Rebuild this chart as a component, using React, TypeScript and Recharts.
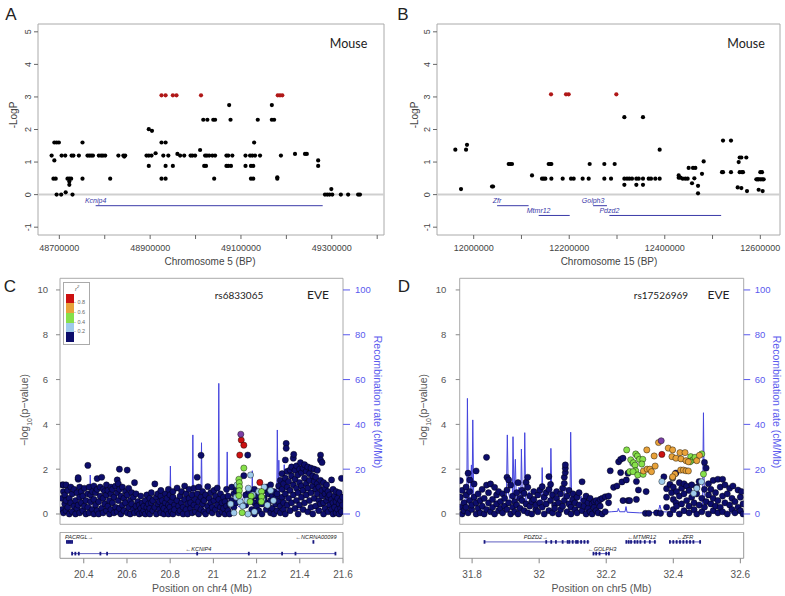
import React from 'react';
import { ComposedChart, Scatter, Line, XAxis, YAxis, ReferenceArea, ReferenceLine } from 'recharts';

const SANS = '"Liberation Sans", Arial, sans-serif';
const LATO = 'Lato, "Open Sans", sans-serif';

// ---------- panel A (mouse, chr5) ----------
const aXTicks = [48700000, 48800000, 48900000, 49000000, 49100000, 49200000, 49300000, 49400000];
const aXLabels = [48700000, 48900000, 49100000, 49300000];
const aBlack = [
  [48683000, 1.2], [48689000, 1.6], [48694000, 1.6], [48699000, 1.6], [48689000, 1.05], [48687000, 0.49],
  [48692000, 0.49], [48694000, 0.0], [48704000, 0.0], [48705000, 1.2], [48713000, 1.2], [48714000, 0.07],
  [48718000, 0.49], [48722000, 0.49], [48726000, 0.49], [48722000, 0.4], [48722000, 0.3], [48727000, 1.2],
  [48731000, 1.2], [48729000, 0.0], [48743000, 1.2], [48751000, 1.6], [48751000, 0.49], [48762000, 1.2],
  [48766000, 1.2], [48770000, 1.2], [48774000, 1.2], [48787000, 1.2], [48792000, 1.2], [48796000, 1.2],
  [48801000, 1.2], [48812000, 0.49], [48830000, 1.2], [48841000, 1.2], [48843000, 1.17], [48845000, 1.2],
  [48892000, 1.2], [48897000, 1.2], [48903000, 1.2], [48897000, 0.88], [48897000, 2.01], [48904000, 1.96],
  [48912000, 1.27], [48925000, 1.6], [48934000, 1.6], [48925000, 0.49], [48934000, 0.49], [48929000, 1.2],
  [48940000, 1.2], [48934000, 0.88], [48950000, 0.88], [48960000, 1.25], [48966000, 1.2], [48975000, 1.2],
  [48989000, 1.2], [48993000, 1.2], [48999000, 1.2], [49010000, 1.37], [49017000, 2.3], [49026000, 2.3],
  [49019000, 0.88], [49023000, 0.88], [49021000, 1.2], [49025000, 1.2], [49030000, 1.2], [49039000, 2.3],
  [49043000, 2.3], [49037000, 1.2], [49043000, 1.2], [49041000, 0.49], [49074000, 2.75], [49077000, 2.3],
  [49068000, 1.2], [49072000, 1.2], [49081000, 1.2], [49068000, 0.88], [49072000, 0.88], [49078000, 0.88],
  [49110000, 1.2], [49110000, 0.88], [49120000, 1.2], [49125000, 1.2], [49122000, 0.49], [49127000, 0.49],
  [49122000, 0.88], [49127000, 0.88], [49129000, 1.6], [49131000, 1.2], [49137000, 2.3], [49142000, 1.2],
  [49168000, 2.75], [49168000, 2.3], [49173000, 2.3], [49180000, 0.49], [49180000, 0.53], [49188000, 1.2],
  [49219000, 1.25], [49241000, 1.25], [49245000, 1.25], [49270000, 1.05], [49270000, 0.88], [49285000, 0.0],
  [49290000, 0.0], [49295000, 0.0], [49299000, 0.17], [49301000, 0.0], [49320000, 0.0], [49336000, 0.0],
  [49358000, 0.0], [49362000, 0.0],
];
const aRed = [
  [48925000, 3.05], [48934000, 3.05], [48950000, 3.05], [48958000, 3.05], [49012000, 3.05],
  [49181000, 3.05], [49186000, 3.05], [49191000, 3.05],
];
const aGenes = [{ name: 'Kcnip4', start: 48780000, end: 49280000, row: 0 }];

// ---------- panel B (mouse, chr15) ----------
const bXTicks = [12000000, 12100000, 12200000, 12300000, 12400000, 12500000, 12600000];
const bXLabels = [12000000, 12200000, 12400000, 12600000];
const bBlack = [
  [11961600, 1.38], [11973500, 0.17], [11984000, 1.38], [11986000, 1.53], [12038400, 0.25], [12040500, 0.25],
  [12073300, 0.94], [12076700, 0.94], [12080200, 0.94], [12122100, 0.59], [12143000, 0.49], [12146500, 0.49],
  [12150000, 0.49], [12157000, 0.94], [12160500, 0.94], [12162600, 0.94], [12162600, 0.49], [12186300, 0.49],
  [12203700, 0.49], [12209300, 0.49], [12228100, 0.49], [12240700, 0.49], [12242800, 0.94], [12273500, 0.94],
  [12273500, 0.49], [12287500, 0.49], [12295100, 0.94], [12315400, 2.38], [12315400, 0.3], [12315400, 0.49],
  [12320900, 0.49], [12325800, 0.49], [12331400, 0.49], [12340500, 0.49], [12340500, 0.3], [12345400, 0.49],
  [12354400, 2.38], [12354400, 0.49], [12354400, 0.3], [12366300, 0.49], [12371200, 0.49], [12380200, 0.49],
  [12389300, 1.38], [12389300, 0.49], [12429100, 0.59], [12429100, 0.52], [12432600, 0.52], [12437500, 0.49],
  [12443000, 0.49], [12447900, 0.49], [12450000, 0.82], [12459100, 0.82], [12457000, 0.35], [12464000, 0.82],
  [12461900, 0.5], [12469600, 0.27], [12469600, 0.04], [12477900, 0.64], [12481400, 1.02], [12519800, 0.69],
  [12521900, 0.69], [12521900, 1.66], [12538600, 1.66], [12538600, 0.69], [12552600, 0.22], [12554700, 1.0],
  [12556800, 1.14], [12560300, 1.14], [12556800, 0.69], [12560300, 0.2], [12561700, 0.69], [12563700, 0.69],
  [12570700, 1.14], [12572100, 0.11], [12591700, 0.47], [12594400, 0.47], [12596500, 0.47], [12600000, 0.47],
  [12596500, 0.15], [12600000, 0.69], [12603500, 0.69], [12603500, 0.47], [12607000, 0.47], [12604900, 0.11],
];
const bRed = [[12161900, 3.08], [12193300, 3.08], [12198800, 3.08], [12298600, 3.08]];
const bGenes = [
  { name: 'Zfr', start: 12049000, end: 12115000, row: 0 },
  { name: 'Mtmr12', start: 12136000, end: 12201000, row: 1 },
  { name: 'Golph3', start: 12250000, end: 12279000, row: 0 },
  { name: 'Pdzd2', start: 12284000, end: 12518000, row: 1 },
];
const logpTicks = [-1, 0, 1, 2, 3, 4, 5];

// ---------- panel C (human, chr4) ----------
const cXTicks = [20.4, 20.6, 20.8, 21, 21.2, 21.4, 21.6];
const pTicks = [0, 2, 4, 6, 8, 10];
const rateTicks = [0, 20, 40, 60, 80, 100];
const cNavyCols = [
  [20.300, 0.2, 0.7, 1.3], [20.306, 0.05, 1.0, 1.3], [20.312, 0.45, 0.85], [20.318, 0.15, 1.3, 0.6],
  [20.326, 0.3, 1.05], [20.333, 0.0, 0.7], [20.340, 0.5, 1.2], [20.347, 0.1, 0.9], [20.355, 0.35, 1.1],
  [20.362, 0.0, 0.6], [20.369, 0.25, 0.95], [20.374, 1.55, 1.62, 0.4], [20.381, 0.05, 0.75, 1.2],
  [20.389, 0.5, 1.0], [20.396, 0.15, 0.8], [20.403, 0.35, 1.15], [20.410, 0.0, 0.6], [20.419, 2.17, 0.9, 0.3],
  [20.425, 0.05, 1.2], [20.432, 0.55, 0.85], [20.440, 0.2, 1.0], [20.447, 0.0, 0.65, 1.25], [20.455, 0.4, 0.95],
  [20.462, 1.58, 0.15, 1.1], [20.469, 0.55, 0.0], [20.476, 0.8, 1.2], [20.483, 0.25, 1.64],
  [20.490, 0.05, 0.7, 1.1], [20.497, 0.45, 1.0], [20.505, 0.15, 0.85, 1.3], [20.512, 0.35, 1.05],
  [20.519, 0.0, 0.6], [20.526, 0.2, 0.9, 1.2], [20.533, 0.5, 1.1], [20.540, 0.05, 0.75], [20.547, 0.3, 1.25],
  [20.555, 1.52, 0.1, 0.95], [20.560, 0.6, 1.35], [20.565, 2.0, 0.25, 1.1], [20.572, 0.0, 0.8],
  [20.579, 0.4, 1.2], [20.586, 0.15, 0.7], [20.593, 0.5, 1.0], [20.601, 1.96, 0.05, 0.85], [20.608, 0.3, 1.15],
  [20.615, 0.0, 0.6], [20.622, 0.45, 0.95], [20.629, 0.2, 0.75], [20.635, 1.4, 0.05], [20.642, 0.35, 0.9],
  [20.650, 0.1, 0.55], [20.657, 0.0, 0.4], [20.664, 0.25, 0.8], [20.671, 0.05, 0.5], [20.678, 0.15, 0.35],
  [20.685, 0.0, 0.6], [20.692, 0.3, 0.85], [20.699, 0.1, 0.45], [20.706, 0.0, 0.25, 0.7], [20.713, 0.5, 0.95],
  [20.720, 0.15, 0.6], [20.729, 1.34, 0.3], [20.736, 0.0, 0.75], [20.743, 0.45, 0.9], [20.750, 0.2, 0.55],
  [20.757, 0.05, 0.8, 1.05], [20.764, 0.35, 0.6], [20.771, 0.0, 0.25], [20.778, 0.5, 0.9], [20.785, 0.15, 0.7],
  [20.792, 0.0, 0.4, 1.1], [20.799, 0.3, 0.85], [20.806, 0.1, 0.55], [20.813, 0.0, 0.75, 1.0], [20.820, 0.4, 0.2],
  [20.832, 1.16, 0.6], [20.839, 0.05, 0.35], [20.846, 0.8, 0.15], [20.853, 0.5, 1.0], [20.860, 0.0, 0.3],
  [20.867, 1.25, 0.65], [20.874, 0.2, 0.9], [20.881, 0.0, 0.45], [20.888, 0.7, 1.1], [20.895, 0.25, 0.5],
  [20.902, 0.05, 0.85], [20.910, 0.4, 1.15], [20.917, 0.1, 0.65], [20.925, 1.64, 0.3, 0.9],
  [20.932, 0.0, 0.55, 1.2], [20.943, 2.62, 0.2, 0.75], [20.950, 0.45, 1.0], [20.957, 0.1, 0.6],
  [20.964, 0.0, 0.85], [20.974, 1.22, 0.35], [20.981, 0.15, 0.7], [20.988, 0.5, 0.95], [20.995, 0.05, 0.3],
  [21.003, 0.6, 1.05], [21.010, 0.2, 0.8], [21.018, 1.16, 0.4], [21.025, 0.0, 0.65], [21.033, 0.3, 0.9],
  [21.040, 0.1, 0.5], [21.047, 0.75, 0.25], [21.054, 0.0, 0.55], [21.061, 1.1, 0.35], [21.068, 0.15, 0.8],
  [21.075, 0.45, 0.0], [21.085, 1.2, 0.6], [21.095, 0.3, 0.9], [21.105, 1.05, 0.5], [21.141, 1.71],
  [21.159, 2.63], [21.150, 0.4, 0.85], [21.165, 0.6, 1.0], [21.178, 0.2, 0.75], [21.190, 0.0, 0.5, 1.1],
  [21.200, 0.35, 0.8], [21.210, 0.15, 0.6], [21.225, 0.45, 0.0], [21.235, 0.7, 1.05], [21.245, 0.2, 0.5, 1.2],
  [21.255, 0.35, 0.9], [21.265, 0.05, 0.6, 1.3], [21.273, 0.25, 0.8], [21.280, 0.0, 1.0], [21.288, 0.45, 0.7],
  [21.295, 0.15, 0.9], [21.302, 0.55, 1.25], [21.310, 0.05, 0.35, 1.5], [21.318, 0.75, 1.1, 1.8],
  [21.325, 0.2, 0.5, 1.35], [21.333, 2.41, 0.9, 1.6, 0.0], [21.337, 3.15, 2.93], [21.342, 0.4, 1.2, 1.9],
  [21.348, 0.7, 1.45], [21.355, 1.96, 0.15, 1.05], [21.362, 0.5, 1.7, 2.1], [21.370, 2.49, 0.85, 1.3],
  [21.372, 2.66], [21.378, 0.25, 1.55, 1.95], [21.385, 0.6, 1.15, 2.15], [21.392, 0.0, 0.95, 1.75],
  [21.399, 0.4, 1.4, 2.0], [21.403, 2.29], [21.408, 0.75, 1.25, 1.85], [21.415, 0.2, 1.05, 2.05],
  [21.422, 0.5, 1.6, 2.2], [21.430, 0.85, 1.35, 1.9], [21.437, 0.1, 1.15, 2.1], [21.445, 0.6, 1.5, 1.8],
  [21.452, 0.3, 0.95, 2.05], [21.460, 0.0, 1.25, 1.7], [21.467, 0.7, 1.45, 2.0], [21.474, 0.35, 1.1, 1.65],
  [21.481, 0.9, 1.35, 1.95], [21.488, 0.15, 0.6, 1.2], [21.496, 2.63, 2.41, 0.45, 1.5], [21.503, 2.3, 0.8, 1.05],
  [21.510, 0.0, 0.5, 1.4], [21.517, 0.25, 0.9, 1.15], [21.524, 0.6, 1.3], [21.531, 0.1, 0.75, 1.0],
  [21.538, 0.4, 0.85], [21.547, 1.52, 0.2, 0.65], [21.554, 0.0, 0.5, 1.1], [21.561, 0.3, 0.8],
  [21.568, 0.55, 1.0, 0.05], [21.575, 0.2, 0.7], [21.582, 0.0, 0.45, 0.95], [21.589, 0.25, 0.6],
  [21.593, 1.59, 0.1], [21.598, 0.4, 0.75],
];
const cLightBlue = [
  [21.08, 0.45], [21.095, 0.05], [21.106, 0.75], [21.11, 1.3], [21.124, 0.55], [21.136, 0.35],
  [21.155, 0.6], [21.162, 1.15], [21.172, 1.74], [21.182, 0.85], [21.19, 0.1], [21.21, 1.0],
  [21.226, 0.65], [21.235, 1.2], [21.25, 0.4], [21.265, 1.05], [21.278, 0.6], [21.16, 0.0],
];
const cGreen = [
  [21.118, 1.55], [21.12, 1.4], [21.121, 1.22], [21.12, 1.04], [21.118, 0.82], [21.133, 0.06],
  [21.175, 0.8], [21.17, 0.55], [21.223, 1.0], [21.223, 0.77], [21.222, 0.55], [21.141, 2.05],
];
const cRed = [[21.129, 3.3], [21.141, 3.07], [21.122, 2.63], [21.215, 1.41]];
const cIndex = [[21.127, 3.56]];
const cRecomb = [
  [20.29, 2], [20.32, 3], [20.34, 1.5], [20.36, 4], [20.38, 2], [20.40, 3], [20.427, 2.5], [20.43, 17.4],
  [20.434, 3], [20.45, 2], [20.47, 5], [20.49, 2], [20.51, 3], [20.53, 1.5], [20.56, 4], [20.58, 2], [20.60, 6],
  [20.62, 2], [20.65, 1], [20.68, 3], [20.71, 1.5], [20.74, 2], [20.77, 1], [20.798, 2], [20.801, 21.4],
  [20.804, 2], [20.83, 3], [20.86, 1.5], [20.88, 4], [20.902, 3], [20.905, 35.3], [20.908, 6], [20.925, 4],
  [20.942, 5], [20.945, 31.8], [20.948, 4], [20.97, 2], [20.99, 3], [21.01, 2], [21.022, 3], [21.025, 58.3],
  [21.028, 3], [21.045, 2], [21.061, 3], [21.064, 27.7], [21.067, 4], [21.09, 6], [21.12, 3], [21.15, 10],
  [21.165, 6], [21.178, 8], [21.18, 19.3], [21.183, 6], [21.21, 3], [21.24, 12], [21.245, 4], [21.27, 3],
  [21.293, 4], [21.296, 37.5], [21.3, 5], [21.303, 24], [21.306, 4], [21.326, 5], [21.328, 22], [21.331, 3],
  [21.36, 2], [21.40, 2], [21.45, 1], [21.50, 2], [21.55, 1], [21.60, 1],
];
const cGenes = [
  { name: 'PACRGL\u2192', start: 20.32, end: 20.348, row: 0, labelAt: 20.378 },
  { name: '\u2190NCRNA00099', start: 21.46, end: 21.466, row: 0, labelAt: 21.475 },
  { name: '\u2190KCNIP4', start: 20.346, end: 21.565, row: 1, labelAt: 20.931 },
];
const cExons = [
  [20.322, 0], [20.328, 0], [20.334, 0], [20.34, 0], [20.346, 0], [21.463, 0],
  [20.346, 1], [20.361, 1], [20.377, 1], [20.477, 1], [20.508, 1], [20.925, 1], [21.164, 1], [21.318, 1],
  [21.38, 1], [21.565, 1],
];

// ---------- panel D (human, chr5) ----------
const dXTicks = [31.8, 32, 32.2, 32.4, 32.6];
const dNavyCols = [
  [31.765, 1.49, 0.3, 0.75], [31.770, 0.0, 1.05], [31.776, 0.5, 0.15], [31.782, 0.85, 0.3, 1.2],
  [31.788, 1.82, 0.05], [31.793, 1.52, 0.6, 1.0], [31.799, 0.2, 0.4], [31.806, 1.34, 0.75],
  [31.812, 1.92, 0.0, 0.5], [31.818, 0.25, 0.9], [31.824, 0.6, 0.05], [31.830, 0.35, 1.1], [31.836, 0.0, 0.7],
  [31.843, 2.53, 1.29, 0.2], [31.849, 0.5, 0.95], [31.855, 0.1, 1.34], [31.861, 0.65, 0.3], [31.867, 1.19, 0.0],
  [31.873, 0.45, 0.85], [31.879, 0.15, 1.0], [31.885, 0.55, 0.25], [31.891, 0.9, 0.05], [31.897, 0.35, 0.7],
  [31.904, 1.64, 1.07, 0.2], [31.909, 1.52, 0.5], [31.915, 0.0, 1.29], [31.921, 0.8, 0.3], [31.927, 0.1, 0.55],
  [31.933, 0.95, 0.4], [31.937, 1.4, 0.0], [31.943, 0.25, 0.7], [31.949, 0.6, 1.05], [31.955, 0.15, 0.92],
  [31.961, 1.41, 0.45], [31.966, 1.64, 1.19, 0.05], [31.972, 0.35, 0.8], [31.978, 0.0, 0.55],
  [31.984, 0.65, 1.0], [31.990, 0.2, 0.4], [31.996, 0.85, 0.1], [32.002, 1.07, 0.5], [32.009, 1.22, 0.3],
  [32.015, 0.0, 0.75], [32.021, 0.45, 0.95], [32.029, 1.1, 1.67, 0.15], [32.034, 1.32, 0.6], [32.040, 0.05, 0.85],
  [32.046, 0.4, 0.25], [32.052, 0.7, 1.0], [32.058, 0.0, 0.5], [32.064, 0.9, 0.2], [32.070, 0.35, 1.15],
  [32.075, 1.64, 1.37, 0.6], [32.078, 1.85, 2.04, 2.19], [32.083, 0.1, 0.8], [32.089, 0.45, 1.05],
  [32.095, 0.0, 0.3], [32.101, 0.65, 0.9], [32.107, 0.2, 0.5], [32.113, 0.75, 0.05], [32.119, 0.4, 0.95],
  [32.128, 1.44, 0.15], [32.134, 0.6, 0.35], [32.140, 0.0, 0.8], [32.146, 0.25, 0.5], [32.152, 0.7, 0.1],
  [32.158, 0.45, 0.0], [32.164, 0.3, 0.55], [32.170, 0.6, 0.15], [32.176, 0.5, 0.05], [32.182, 0.65, 0.35],
  [32.188, 0.7, 0.0], [32.197, 0.77, 0.1], [32.207, 0.8, 0.5], [32.212, 1.93], [32.222, 1.19], [32.232, 1.25],
  [32.237, 2.33], [32.243, 2.44, 1.85], [32.247, 1.43], [32.250, 2.49, 0.6], [32.260, 1.52], [32.265, 1.82, 0.6],
  [32.270, 0.6], [32.290, 0.65, 1.45], [32.296, 1.07], [32.319, 1.0], [32.317, 0.03], [32.327, 0.03],
  [32.350, 0.05], [32.362, 0.03], [32.372, 1.66], [32.380, 1.13, 0.3, 0.75], [32.390, 1.32, 0.0], [32.395, 0.95],
  [32.400, 0.2, 1.2, 0.65], [32.408, 1.83, 0.5], [32.410, 1.0, 0.35], [32.418, 0.0, 0.8, 1.4],
  [32.425, 0.45, 1.15], [32.432, 0.15, 0.9, 1.35], [32.440, 0.6, 1.25], [32.447, 0.05, 0.35, 1.05],
  [32.455, 0.75, 1.3], [32.462, 0.2, 0.5], [32.470, 0.9, 1.2, 0.0], [32.477, 0.4, 1.45], [32.485, 0.1, 0.7],
  [32.493, 2.3, 1.1, 0.3], [32.498, 2.05, 0.55], [32.505, 0.0, 0.85, 1.35], [32.512, 0.45, 1.1],
  [32.519, 0.15, 0.7, 1.5], [32.526, 0.35, 0.95], [32.533, 1.55, 0.05, 0.6], [32.540, 0.3, 1.2],
  [32.547, 1.55, 0.8, 0.1], [32.554, 0.5, 1.3], [32.561, 0.0, 0.9], [32.568, 0.4, 1.15], [32.575, 0.2, 0.7],
  [32.578, 1.25], [32.584, 0.55, 0.05], [32.593, 1.07, 0.3], [32.600, 0.75, 0.15], [32.603, 1.0],
  [32.608, 0.45, 0.0],
];
const dLightBlue = [[32.279, 2.26], [32.366, 1.45], [32.484, 1.44], [32.461, 0.92], [32.47, 1.15]];
const dGray = [[32.398, 1.6]];
const dGreen = [
  [32.261, 2.86], [32.288, 2.68], [32.293, 2.59], [32.273, 2.42], [32.281, 2.29], [32.299, 2.44],
  [32.309, 2.44], [32.306, 2.23], [32.286, 2.18], [32.288, 1.93], [32.27, 1.89], [32.28, 1.89],
  [32.294, 1.74], [32.31, 1.77], [32.452, 2.56], [32.458, 2.41], [32.465, 2.53], [32.45, 2.33],
  [32.485, 2.68], [32.49, 1.78],
];
const dOrange = [
  [32.321, 2.86], [32.343, 2.59], [32.311, 1.92], [32.322, 2.0], [32.33, 2.0], [32.335, 1.89], [32.346, 2.14],
  [32.356, 3.19], [32.385, 2.94], [32.398, 2.86], [32.396, 2.56], [32.408, 2.49], [32.42, 2.74], [32.423, 2.46],
  [32.435, 2.74], [32.438, 2.38], [32.445, 2.33], [32.47, 2.38], [32.478, 2.62], [32.422, 1.96], [32.43, 1.96],
  [32.438, 1.93], [32.445, 1.92], [32.405, 1.78], [32.398, 1.66],
];
const dRed = [[32.366, 2.66]];
const dIndex = [[32.364, 3.27]];
const dRecomb = [
  [31.763, 3], [31.77, 6], [31.775, 2], [31.782, 10], [31.784, 4], [31.786, 51.6], [31.789, 5], [31.795, 12],
  [31.798, 21.9], [31.8, 6], [31.802, 42], [31.805, 4], [31.815, 3], [31.825, 8], [31.83, 2], [31.85, 5],
  [31.86, 3], [31.875, 6], [31.89, 2], [31.902, 4], [31.905, 35.3], [31.908, 10], [31.915, 5], [31.92, 6],
  [31.922, 34.5], [31.925, 8], [31.929, 24.4], [31.932, 5], [31.94, 12], [31.945, 6], [31.947, 29], [31.95, 7],
  [31.955, 8], [31.957, 36.3], [31.96, 5], [31.97, 10], [31.98, 4], [31.99, 6], [32.0, 3], [32.007, 5],
  [32.009, 20.7], [32.012, 4], [32.02, 8], [32.033, 6], [32.035, 29.3], [32.038, 5], [32.05, 10], [32.06, 4],
  [32.07, 6], [32.08, 12], [32.092, 5], [32.094, 36.5], [32.097, 4], [32.11, 6], [32.12, 3], [32.125, 8],
  [32.13, 2], [32.15, 1.5], [32.18, 1], [32.2, 0.8], [32.215, 1], [32.234, 1.2], [32.236, 2.5], [32.24, 1],
  [32.256, 1], [32.259, 3.3], [32.262, 0.8], [32.3, 0.5], [32.33, 0.6], [32.355, 0.8], [32.36, 4], [32.365, 1],
  [32.4, 0.8], [32.44, 0.5], [32.47, 0.8], [32.487, 0.5], [32.49, 45.2], [32.493, 1], [32.52, 0.5],
  [32.56, 0.4], [32.61, 0.3],
];
const dGenes = [
  { name: 'PDZD2\u2192', start: 31.837, end: 32.15, row: 0, labelAt: 31.99 },
  { name: '\u2190GOLPH3', start: 32.162, end: 32.209, row: 1, labelAt: 32.188 },
  { name: '\u2190MTMR12', start: 32.259, end: 32.349, row: 0, labelAt: 32.306 },
  { name: '\u2190ZFR', start: 32.388, end: 32.483, row: 0, labelAt: 32.435 },
];
const dExons = [
  [31.837, 0], [32.021, 0], [32.036, 0], [32.05, 0], [32.07, 0], [32.085, 0], [32.09, 0], [32.1, 0], [32.11, 0],
  [32.115, 0], [32.125, 0], [32.135, 0], [32.145, 0], [32.162, 1], [32.17, 1], [32.18, 1], [32.2, 1], [32.208, 1],
  [32.26, 0], [32.267, 0], [32.274, 0], [32.285, 0], [32.293, 0], [32.302, 0], [32.315, 0], [32.33, 0], [32.345, 0],
  [32.39, 0], [32.4, 0], [32.41, 0], [32.42, 0], [32.43, 0], [32.44, 0], [32.45, 0], [32.46, 0], [32.48, 0],
];

const r2Legend = [
  { color: '#cc1111', label: '0.8' },
  { color: '#e8a23a', label: '0.6' },
  { color: '#86e04a', label: '0.4' },
  { color: '#9fcbec', label: '0.2' },
  { color: '#0d0d6b', label: '' },
];

const pts = (arr) => arr.map(([x, y]) => ({ x, y }));
const cols = (rows) => rows.flatMap(([x, ...ys]) => ys.map((y) => ({ x, y })));
const rates = (arr) => arr.map(([x, rate]) => ({ x, rate }));

// ---------- shapes ----------
const smallDot = (fill) => (p) => <circle cx={p.cx} cy={p.cy} r={2.1} fill={fill} />;
const lzDot = (fill) => (p) => (
  <circle cx={p.cx} cy={p.cy} r={3.1} fill={fill} stroke="#000" strokeOpacity={0.7} strokeWidth={0.6} />
);
const mouseGeneText = (p) => (
  <text x={p.cx} y={p.cy - 2.5} textAnchor="middle" fontSize={7} fontStyle="italic" fill="#3a3aa8" fontFamily={SANS}>
    {(p.payload || p).name}
  </text>
);
const humanGeneText = (p) => (
  <text x={p.cx} y={p.cy} dy="0.35em" textAnchor="middle" fontSize={5.6} fontStyle="italic" fill="#222" fontFamily={SANS}>
    {(p.payload || p).name}
  </text>
);
const exonShape = (p) => <rect x={p.cx - 0.9} y={p.cy - 1.8} width={1.8} height={3.6} fill="#1a1a80" />;

const rotTick = (p) => (
  <text x={p.x} y={p.y} dy="0.35em" textAnchor="middle" fontSize={9} fill="#444" fontFamily={SANS}
    transform={`rotate(-90 ${p.x} ${p.y})`}>
    {p.payload.value}
  </text>
);
const bpTick = (labels) => (p) =>
  labels.includes(p.payload.value) ? (
    <text x={p.x} y={p.y} dy="0.71em" textAnchor="middle" fontSize={9} fill="#444" fontFamily={SANS}>
      {p.payload.value}
    </text>
  ) : (
    <g />
  );

function Txt({ x, y, size, color = '#222', rot = 0, font = SANS, italic = false, children }) {
  return (
    <div
      style={{
        position: 'absolute', left: x, top: y, transform: `translate(-50%, -50%) rotate(${rot}deg)`,
        fontSize: size, color, fontFamily: font, whiteSpace: 'nowrap', lineHeight: 1,
        fontStyle: italic ? 'italic' : 'normal',
      }}
    >
      {children}
    </div>
  );
}

function MousePanel({ left, width, yAxisW, rightM, xDomain, xTicks, xLabels, black, red, genes, tickMargin }) {
  const labels = genes.map((g) => ({ x: g.start, y: -0.34 - 0.3 * g.row, name: g.name }));
  return (
    <div style={{ position: 'absolute', left, top: 0 }}>
      <ComposedChart width={width} height={275} margin={{ top: 24, right: rightM, bottom: 0, left: 0 }}>
        <XAxis type="number" dataKey="x" domain={xDomain} allowDataOverflow ticks={xTicks} interval={0}
          tick={bpTick(xLabels)} tickSize={4} tickMargin={5.5} axisLine={false} tickLine={{ stroke: '#666' }} height={40} />
        <YAxis type="number" dataKey="y" domain={[-1.24, 5.24]} allowDataOverflow ticks={logpTicks} interval={0}
          tick={rotTick} tickSize={4} tickMargin={tickMargin} width={yAxisW} axisLine={false} tickLine={{ stroke: '#666' }} />
        <ReferenceArea x1={xDomain[0]} x2={xDomain[1]} y1={-1.24} y2={5.24} fill="none" stroke="#aaa" fillOpacity={0} />
        <ReferenceLine y={0} stroke="#cfcfcf" strokeWidth={2} />
        {genes.map((g) => (
          <ReferenceLine key={g.name} segment={[{ x: g.start, y: -0.34 - 0.3 * g.row }, { x: g.end, y: -0.34 - 0.3 * g.row }]}
            stroke="#3a3aa8" strokeWidth={1} />
        ))}
        <Scatter data={labels} shape={mouseGeneText} isAnimationActive={false} />
        <Scatter data={pts(black)} shape={smallDot('#000')} isAnimationActive={false} />
        <Scatter data={pts(red)} shape={smallDot('#b01818')} isAnimationActive={false} />
      </ComposedChart>
    </div>
  );
}

function HumanPanel({ left, width, leftW, rightW, xDomain, xTicks, navy, light, green, orange, red, gray, index, recomb, genes, exons, lTickM, rTickS, rTickM }) {
  const gLabels = genes.map((g) => ({ x: g.labelAt, y: g.row === 0 ? 0.8 : 0.35, name: g.name }));
  return (
    <>
      <div style={{ position: 'absolute', left, top: 240 }}>
        <ComposedChart width={width} height={290} margin={{ top: 38.3, right: 0, bottom: 5.7, left: 0 }}>
          <XAxis type="number" dataKey="x" domain={xDomain} allowDataOverflow hide />
          <YAxis yAxisId="p" type="number" dataKey="y" domain={[-0.46, 10.52]} allowDataOverflow ticks={pTicks} interval={0}
            width={leftW} tickSize={4} tickMargin={lTickM} axisLine={false} tickLine={{ stroke: '#888' }}
            tick={{ fontSize: 9.5, fill: '#555', fontFamily: SANS }} />
          <YAxis yAxisId="r" orientation="right" type="number" dataKey="rate" domain={[-4.6, 105.2]} allowDataOverflow
            ticks={rateTicks} interval={0} width={rightW} tickSize={rTickS} tickMargin={rTickM} axisLine={false}
            tickLine={{ stroke: '#5a5aee' }} tick={{ fontSize: 9.5, fill: '#5a5aee', fontFamily: SANS }} />
          <ReferenceArea yAxisId="p" x1={xDomain[0]} x2={xDomain[1]} y1={-0.46} y2={10.52} fill="none" fillOpacity={0} stroke="#aaa" />
          <Line yAxisId="r" data={rates(recomb)} dataKey="rate" type="linear" dot={false} stroke="#4545dd"
            strokeWidth={1} isAnimationActive={false} />
          <Scatter yAxisId="p" data={cols(navy)} shape={lzDot('#0d0d6b')} isAnimationActive={false} />
          <Scatter yAxisId="p" data={pts(light)} shape={lzDot('#9fcbec')} isAnimationActive={false} />
          <Scatter yAxisId="p" data={pts(gray)} shape={lzDot('#6b6b6b')} isAnimationActive={false} />
          <Scatter yAxisId="p" data={pts(green)} shape={lzDot('#86e04a')} isAnimationActive={false} />
          <Scatter yAxisId="p" data={pts(orange)} shape={lzDot('#e8a23a')} isAnimationActive={false} />
          <Scatter yAxisId="p" data={pts(red)} shape={lzDot('#cc1111')} isAnimationActive={false} />
          <Scatter yAxisId="p" data={pts(index)} shape={lzDot('#7b3fa6')} isAnimationActive={false} />
        </ComposedChart>
      </div>
      <div style={{ position: 'absolute', left, top: 532 }}>
        <ComposedChart width={width} height={64} margin={{ top: 0.3, right: rightW, bottom: 0, left: leftW }}>
          <XAxis type="number" dataKey="x" domain={xDomain} allowDataOverflow ticks={xTicks} interval={0}
            tickFormatter={(v) => String(+Number(v).toFixed(1))} height={37.7} tickSize={5} tickMargin={8}
            axisLine={false} tickLine={{ stroke: '#888' }} tick={{ fontSize: 10, fill: '#555', fontFamily: SANS }} />
          <YAxis type="number" dataKey="y" domain={[0, 1]} allowDataOverflow hide />
          <ReferenceArea x1={xDomain[0]} x2={xDomain[1]} y1={0} y2={1} fill="none" fillOpacity={0} stroke="#999" />
          {genes.map((g) => (
            <ReferenceLine key={g.name} segment={[{ x: g.start, y: g.row === 0 ? 0.63 : 0.18 }, { x: g.end, y: g.row === 0 ? 0.63 : 0.18 }]}
              stroke="#3535b0" strokeWidth={0.8} />
          ))}
          <Scatter data={exons.map(([x, row]) => ({ x, y: row === 0 ? 0.63 : 0.18 }))} shape={exonShape} isAnimationActive={false} />
          <Scatter data={gLabels} shape={humanGeneText} isAnimationActive={false} />
        </ComposedChart>
      </div>
    </>
  );
}

function R2Legend() {
  return (
    <div style={{ position: 'absolute', left: 63, top: 281.5, width: 27, height: 63, border: '1px solid #aaa', background: '#fff', boxSizing: 'border-box' }}>
      <div style={{ position: 'absolute', left: 11, top: 1, fontSize: 6, fontStyle: 'italic', color: '#555', fontFamily: SANS }}>
        r<sup style={{ fontSize: 4 }}>2</sup>
      </div>
      {r2Legend.map((e, i) => (
        <div key={i} style={{ position: 'absolute', left: 1.5, top: 11 + i * 9.7, width: 8, height: 9.7, background: e.color }} />
      ))}
      {r2Legend.map((e, i) =>
        e.label ? (
          <div key={'l' + i} style={{ position: 'absolute', left: 10, top: 11 + (i + 1) * 9.7 - 3, fontSize: 5.5, color: '#666', fontFamily: SANS, lineHeight: 1 }}>
            - {e.label}
          </div>
        ) : null
      )}
    </div>
  );
}

export default function App() {
  return (
    <div style={{ position: 'absolute', left: 0, top: 0, width: 785, height: 596, background: '#fff', overflow: 'hidden' }}>
      <MousePanel left={0} width={392} yAxisW={38} rightM={8} xDomain={[48653000, 49415000]} xTicks={aXTicks}
        xLabels={aXLabels} black={aBlack} red={aRed} genes={aGenes} tickMargin={6} />
      <MousePanel left={392} width={393} yAxisW={45} rightM={5} xDomain={[11923200, 12641200]} xTicks={bXTicks}
        xLabels={bXLabels} black={bBlack} red={bRed} genes={bGenes} tickMargin={6} />
      <HumanPanel left={0} width={392} leftW={60} rightW={49} xDomain={[20.29, 21.6]} xTicks={cXTicks}
        navy={cNavyCols} light={cLightBlue} green={cGreen} orange={[]} red={cRed} gray={[]} index={cIndex}
        recomb={cRecomb} genes={cGenes} exons={cExons} lTickM={8} rTickS={7} rTickM={5} />
      <HumanPanel left={392} width={393} leftW={67.7} rightW={41.3} xDomain={[31.763, 32.61]} xTicks={dXTicks}
        navy={dNavyCols} light={dLightBlue} green={dGreen} orange={dOrange} red={dRed} gray={dGray} index={dIndex}
        recomb={dRecomb} genes={dGenes} exons={dExons} lTickM={9.4} rTickS={6.5} rTickM={4.5} />
      <R2Legend />

      <Txt x={11} y={14} size={17}>A</Txt>
      <Txt x={403} y={14} size={17}>B</Txt>
      <Txt x={10} y={286} size={17}>C</Txt>
      <Txt x={404} y={286} size={17}>D</Txt>

      <Txt x={348.5} y={43.5} size={12.5} font={LATO}>Mouse</Txt>
      <Txt x={746} y={43.5} size={12.5} font={LATO}>Mouse</Txt>
      <Txt x={14} y={115} size={10} rot={-90} color="#444">-LogP</Txt>
      <Txt x={414.5} y={115} size={10} rot={-90} color="#444">-LogP</Txt>
      <Txt x={210} y={262} size={10} color="#444">Chromosome 5 (BP)</Txt>
      <Txt x={609} y={262} size={10} color="#444">Chromosome 15 (BP)</Txt>

      <Txt x={239} y={294.5} size={10} font={LATO}>rs6833065</Txt>
      <Txt x={318} y={294.5} size={12} font={LATO}>EVE</Txt>
      <Txt x={661} y={294.5} size={10} font={LATO}>rs17526969</Txt>
      <Txt x={718.5} y={294.5} size={12} font={LATO}>EVE</Txt>

      <Txt x={26} y={410} size={10.5} rot={-90} color="#555">
        −log<sub style={{ fontSize: 7 }}>10</sub>(p−value)
      </Txt>
      <Txt x={424.5} y={410} size={10.5} rot={-90} color="#555">
        −log<sub style={{ fontSize: 7 }}>10</sub>(p−value)
      </Txt>
      <Txt x={378} y={402} size={10.5} rot={90} color="#5a5aee">Recombination rate (cM/Mb)</Txt>
      <Txt x={777} y={402} size={10.5} rot={90} color="#5a5aee">Recombination rate (cM/Mb)</Txt>
      <Txt x={202} y={588} size={10.5} color="#555">Position on chr4 (Mb)</Txt>
      <Txt x={601.5} y={588} size={10.5} color="#555">Position on chr5 (Mb)</Txt>
    </div>
  );
}
